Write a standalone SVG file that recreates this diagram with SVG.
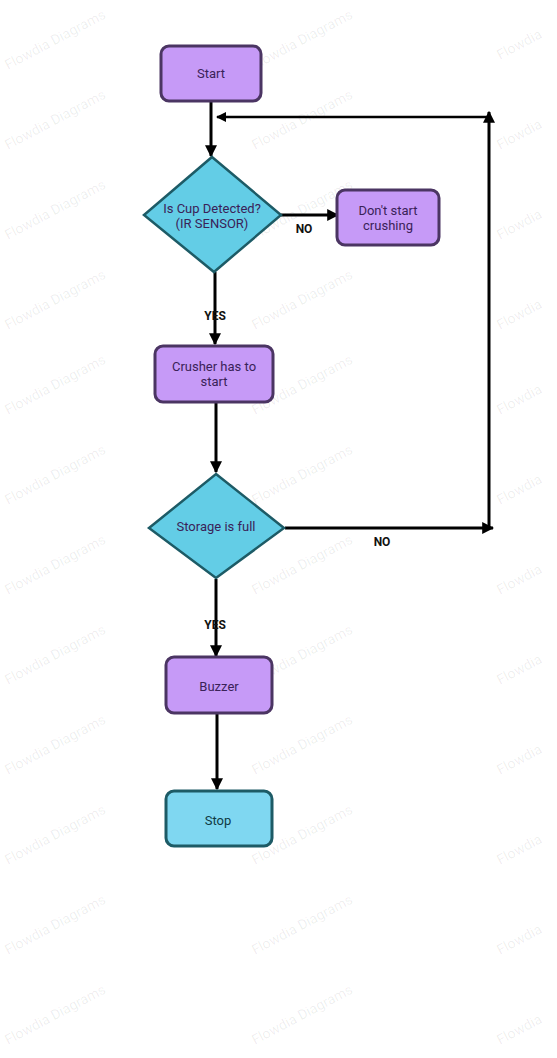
<svg xmlns="http://www.w3.org/2000/svg" width="557" height="1058" viewBox="0 0 557 1058">
<style>
.proc{fill:#c69af7;stroke:#4b3563;stroke-width:3}
.dec{fill:#63cde6;stroke:#1d5b66;stroke-width:2.5}
.term{fill:#7fd7f1;stroke:#1d5b66;stroke-width:3}
.t{font-family:Roboto,"Liberation Sans",sans-serif;font-size:13px;text-anchor:middle}
.tp{fill:#3a2258}
.tb{fill:#0f3a44}
.lbl{font-family:Roboto,"Liberation Sans",sans-serif;font-size:12px;font-weight:bold;fill:#111;text-anchor:middle}
.c{fill:none;stroke:#000;stroke-width:3;marker-end:url(#ah)}
.wm{font-family:Roboto,"Liberation Sans",sans-serif;font-size:14px;fill:#000;fill-opacity:0.07}
</style>
<defs>
<marker id="ah" viewBox="0 0 10 10" refX="9" refY="5" markerWidth="4" markerHeight="4" orient="auto" markerUnits="strokeWidth">
<path d="M0,0 L10,5 L0,10 z" fill="#000"/>
</marker>
</defs>
<rect width="557" height="1058" fill="#fff"/>
<g id="watermarks">
<text class="wm" transform="translate(8,70) rotate(-28)">Flowdia Diagrams</text>
<text class="wm" transform="translate(8,150) rotate(-28)">Flowdia Diagrams</text>
<text class="wm" transform="translate(8,240) rotate(-28)">Flowdia Diagrams</text>
<text class="wm" transform="translate(8,330) rotate(-28)">Flowdia Diagrams</text>
<text class="wm" transform="translate(8,415) rotate(-28)">Flowdia Diagrams</text>
<text class="wm" transform="translate(8,505) rotate(-28)">Flowdia Diagrams</text>
<text class="wm" transform="translate(8,595) rotate(-28)">Flowdia Diagrams</text>
<text class="wm" transform="translate(8,685) rotate(-28)">Flowdia Diagrams</text>
<text class="wm" transform="translate(8,775) rotate(-28)">Flowdia Diagrams</text>
<text class="wm" transform="translate(8,865) rotate(-28)">Flowdia Diagrams</text>
<text class="wm" transform="translate(8,955) rotate(-28)">Flowdia Diagrams</text>
<text class="wm" transform="translate(8,1045) rotate(-28)">Flowdia Diagrams</text>
<text class="wm" transform="translate(255,70) rotate(-28)">Flowdia Diagrams</text>
<text class="wm" transform="translate(255,150) rotate(-28)">Flowdia Diagrams</text>
<text class="wm" transform="translate(255,240) rotate(-28)">Flowdia Diagrams</text>
<text class="wm" transform="translate(255,330) rotate(-28)">Flowdia Diagrams</text>
<text class="wm" transform="translate(255,415) rotate(-28)">Flowdia Diagrams</text>
<text class="wm" transform="translate(255,505) rotate(-28)">Flowdia Diagrams</text>
<text class="wm" transform="translate(255,595) rotate(-28)">Flowdia Diagrams</text>
<text class="wm" transform="translate(255,685) rotate(-28)">Flowdia Diagrams</text>
<text class="wm" transform="translate(255,775) rotate(-28)">Flowdia Diagrams</text>
<text class="wm" transform="translate(255,865) rotate(-28)">Flowdia Diagrams</text>
<text class="wm" transform="translate(255,955) rotate(-28)">Flowdia Diagrams</text>
<text class="wm" transform="translate(255,1045) rotate(-28)">Flowdia Diagrams</text>
<text class="wm" transform="translate(500,60) rotate(-28)">Flowdia</text>
<text class="wm" transform="translate(500,150) rotate(-28)">Flowdia</text>
<text class="wm" transform="translate(500,240) rotate(-28)">Flowdia</text>
<text class="wm" transform="translate(500,330) rotate(-28)">Flowdia</text>
<text class="wm" transform="translate(500,415) rotate(-28)">Flowdia</text>
<text class="wm" transform="translate(500,505) rotate(-28)">Flowdia</text>
<text class="wm" transform="translate(500,595) rotate(-28)">Flowdia</text>
<text class="wm" transform="translate(500,685) rotate(-28)">Flowdia</text>
<text class="wm" transform="translate(500,775) rotate(-28)">Flowdia</text>
<text class="wm" transform="translate(500,865) rotate(-28)">Flowdia</text>
<text class="wm" transform="translate(500,955) rotate(-28)">Flowdia</text>
<text class="wm" transform="translate(500,1045) rotate(-28)">Flowdia</text>
</g>
<g id="connectors">
<path class="c" d="M211,102 L211,156"/>
<path class="c" d="M489,117 L217,117" style="stroke-width:2.5"/>
<path class="c" d="M281,215 L338,215"/>
<text class="lbl" x="304" y="233">NO</text>
<path class="c" d="M215,272 L215,344"/>
<text class="lbl" x="215" y="320">YES</text>
<path class="c" d="M216,403 L216,472"/>
<path class="c" d="M285,528 L493,528"/>
<text class="lbl" x="382" y="546">NO</text>
<path class="c" d="M489,529 L489,112"/>
<path class="c" d="M216,579 L216,656"/>
<text class="lbl" x="215" y="629">YES</text>
<path class="c" d="M217,714 L217,789"/>
</g>
<g id="start">
<rect class="proc" x="161" y="46" width="100" height="55" rx="8"/>
<text class="t tp" x="211" y="78">Start</text>
</g>
<g id="cup-detected">
<polygon class="dec" points="212,157 281,215 214,272 144,215"/>
<text class="t tp" x="212" y="213">Is Cup Detected?</text>
<text class="t tp" x="212" y="228">(IR SENSOR)</text>
</g>
<g id="dont-start">
<rect class="proc" x="337" y="190" width="102" height="55" rx="8"/>
<text class="t tp" x="388" y="215">Don't start</text>
<text class="t tp" x="388" y="230">crushing</text>
</g>
<g id="crusher">
<rect class="proc" x="155" y="346" width="118" height="56" rx="8"/>
<text class="t tp" x="214" y="371">Crusher has to</text>
<text class="t tp" x="214" y="386">start</text>
</g>
<g id="storage">
<polygon class="dec" points="216,474 284,528 216,578 149,528"/>
<text class="t tp" x="216" y="531">Storage is full</text>
</g>
<g id="buzzer">
<rect class="proc" x="166" y="657" width="106" height="56" rx="8"/>
<text class="t tp" x="219" y="691">Buzzer</text>
</g>
<g id="stop">
<rect class="term" x="166" y="791" width="106" height="55" rx="8"/>
<text class="t tb" x="218" y="825">Stop</text>
</g>
</svg>
